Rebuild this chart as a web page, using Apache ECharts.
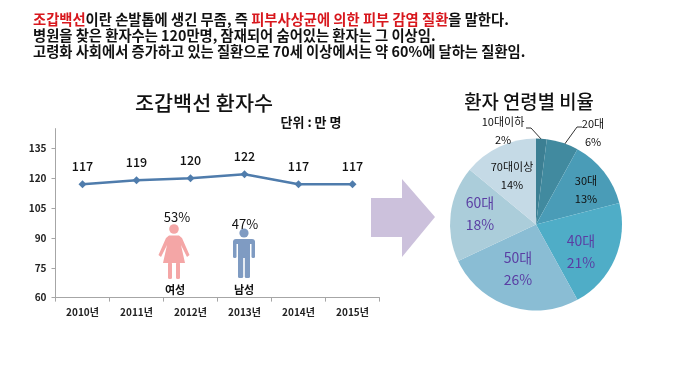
<!DOCTYPE html>
<html>
<head>
<meta charset="utf-8">
<style>html,body{margin:0;padding:0;background:#fff}#c{width:679px;height:375px}</style>
<script src="https://cdn.jsdelivr.net/npm/echarts@6/dist/echarts.min.js"></script>
</head>
<body>
<div id="c"></div>
<script>
const years = ['2010년','2011년','2012년','2013년','2014년','2015년'];
const patients = [117,119,120,122,117,117];
const yTicks = [60,75,90,105,120,135];
const ageGroups = ['10대이하','20대','30대','40대','50대','60대','70대이상'];
const agePercents = [2,6,13,21,26,18,14];
const genderNames = ['여성','남성'];
const genderPercents = [53,47];

const FONT = '"Noto Sans CJK KR","Noto Sans",sans-serif';
const sliceColors = ['#3c7f93','#418a9f','#4a9cb7','#4fadc7','#8abdd4','#abcdda','#c5dae6'];
const labelColors = ['#111','#111','#111','#5a3ea3','#5a3ea3','#5a3ea3','#111'];
const labelSizes = [11,11,11,14,14,14,11];
const labelHeights = [18,18,18,22,22,22,18];
const labelCenters = [[503,131],[593,133],[586,190],[581,252],[518,269],[480,214],[512,176]];
const leaderLines = {
  0: [[526,128],[531,128],[542,140]],
  1: [[582,127],[577,127],[564,145]]
};

const red = {color:'#d8171d',fontWeight:'bold',fontSize:14.3,fontFamily:FONT};
const blk = {color:'#111',fontWeight:'bold',fontSize:14.3,fontFamily:FONT};

function text(x,y,t,size,weight,color,align){
  return {type:'text',x,y,silent:true,style:{text:t,fontSize:size,fontWeight:weight||'normal',fontFamily:FONT,
    fill:color||'#111',align:align||'center',verticalAlign:'middle'}};
}
const pink='#f4a6a6', blue='#7f9bc2';
const graphics = [
  {type:'polygon',silent:true,shape:{points:[[371,198],[402,198],[402,179],[435,217],[402,257],[402,237],[371,237]]},style:{fill:'#ccc1dc'}},
  // female icon
  {type:'circle',silent:true,shape:{cx:174,cy:229,r:4.8},style:{fill:pink}},
  {type:'polygon',silent:true,shape:{points:[[169,235.5],[179,235.5],[182,238],[189.5,255],[187,257],[181,245],[185,263],[163,263],[167,245],[161,257],[158.5,255],[166,238]]},style:{fill:pink}},
  {type:'rect',silent:true,shape:{x:168,y:262,width:4,height:17,r:1.5},style:{fill:pink}},
  {type:'rect',silent:true,shape:{x:176,y:262,width:4,height:17,r:1.5},style:{fill:pink}},
  // male icon
  {type:'circle',silent:true,shape:{cx:244,cy:233,r:4.6},style:{fill:blue}},
  {type:'rect',silent:true,shape:{x:233,y:239,width:22,height:5,r:[3,3,0,0]},style:{fill:blue}},
  {type:'rect',silent:true,shape:{x:233,y:241,width:3.5,height:17,r:1.5},style:{fill:blue}},
  {type:'rect',silent:true,shape:{x:251.5,y:241,width:3.5,height:17,r:1.5},style:{fill:blue}},
  {type:'rect',silent:true,shape:{x:238,y:241,width:12,height:17},style:{fill:blue}},
  {type:'rect',silent:true,shape:{x:238,y:256,width:5.2,height:22,r:1.5},style:{fill:blue}},
  {type:'rect',silent:true,shape:{x:244.8,y:256,width:5.2,height:22,r:1.5},style:{fill:blue}},
  text(177,217,genderPercents[0]+'%',13),
  text(245,224,genderPercents[1]+'%',13),
  text(175,290,genderNames[0],11,'bold'),
  text(244,290,genderNames[1],11,'bold'),
  text(311,122,'단위 : 만 명',13,'bold'),
  text(204,103,'조갑백선 환자수',20.7,500),
  text(529,102,'환자 연령별 비율',18.8,500)
];

const chart = echarts.init(document.getElementById('c'),null,{renderer:'canvas'});
chart.setOption({
  animation:false,
  backgroundColor:'#fff',
  title:{
    left:33,top:12,padding:0,
    text:'{r|조갑백선}{k|이란 손발톱에 생긴 무좀, 즉 }{r|피부사상균에 의한 피부 감염 질환}{k|을 말한다.}\n{k|병원을 찾은 환자수는 120만명, 잠재되어 숨어있는 환자는 그 이상임.}\n{k|고령화 사회에서 증가하고 있는 질환으로 70세 이상에서는 약 60%에 달하는 질환임.}',
    textStyle:{lineHeight:16,rich:{r:{...red,lineHeight:16},k:{...blk,lineHeight:16}}}
  },
  grid:{left:55.5,top:128.6,width:324,height:169,containLabel:false},
  xAxis:{type:'category',data:years,boundaryGap:true,
    axisLine:{lineStyle:{color:'#a6a6a6',width:1}},
    axisTick:{show:true,length:4,lineStyle:{color:'#a6a6a6'}},
    axisLabel:{fontSize:10,fontWeight:'bold',color:'#222',fontFamily:FONT,margin:10},
    splitLine:{show:false}},
  yAxis:{type:'value',min:60,max:145,interval:15,
    axisLine:{show:true,lineStyle:{color:'#a6a6a6',width:1}},
    axisTick:{show:true,length:4,lineStyle:{color:'#a6a6a6'},customValues:yTicks},
    axisLabel:{fontSize:10,fontWeight:'bold',color:'#222',fontFamily:FONT,margin:9,customValues:yTicks},
    splitLine:{show:false}},
  series:[
    {type:'line',data:patients,symbol:'diamond',symbolSize:8,silent:true,
     lineStyle:{color:'#4f7cac',width:2.5},itemStyle:{color:'#4f7cac'},
     label:{show:true,position:'top',distance:8,fontSize:12.5,fontWeight:500,color:'#111',fontFamily:FONT}},
    {type:'pie',center:[536,224.5],radius:[0,86],startAngle:90,silent:true,avoidLabelOverlap:false,
     data:ageGroups.map((n,i)=>({name:n,value:agePercents[i],
       itemStyle:{color:sliceColors[i]},
       label:{position:leaderLines[i]?'outside':'inside',color:labelColors[i],fontSize:labelSizes[i],lineHeight:labelHeights[i],fontFamily:FONT},
       labelLine:{show:!!leaderLines[i]}})),
     label:{show:true,formatter:p=>p.name+'\n'+p.value+'%',align:'center',verticalAlign:'middle'},
     labelLine:{lineStyle:{color:'#333',width:1}},
     labelLayout:p=>{
       const i=p.dataIndex;
       const o={x:labelCenters[i][0],y:labelCenters[i][1],align:'center',verticalAlign:'middle',hideOverlap:false};
       if(leaderLines[i]) o.labelLinePoints=leaderLines[i];
       return o;
     }}
  ],
  graphic:graphics
});
</script>
</body>
</html>
